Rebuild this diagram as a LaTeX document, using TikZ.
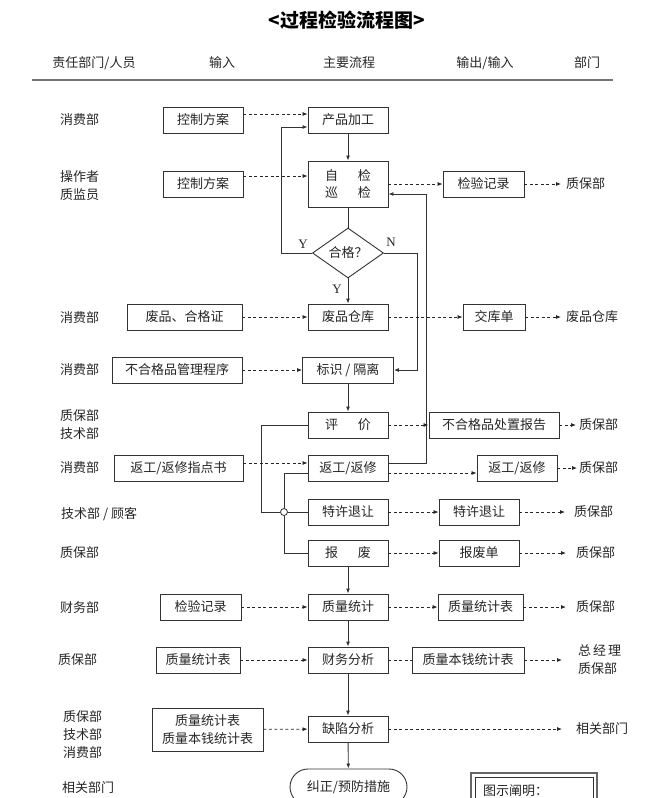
\documentclass[tikz,border=0pt]{standalone}
\usepackage{fontspec}
\setmainfont{Liberation Serif}
\newfontfamily\cjk{Noto Sans CJK SC}
\usetikzlibrary{shapes.geometric,arrows.meta,calc}
\begin{document}
\begin{tikzpicture}[x=1pt,y=-1pt,
  every node/.style={font=\cjk\fontsize{13}{18}\selectfont, text=black!85, inner sep=0pt},
  box/.style={draw=black!80, line width=0.9pt, minimum height=26pt, align=center},
  lab/.style={align=left, anchor=west},
  latin/.style={font=\rmfamily\fontsize{13}{15}\selectfont},
  dsh/.style={draw=black!85, line width=0.8pt, dash pattern=on 3pt off 2.5pt},
  arr/.style={-{Latex[length=5pt,width=4pt]}},
  sol/.style={draw=black!80, line width=0.9pt},
]
\useasboundingbox (0,0) rectangle (657,798);
\fill[white] (0,0) rectangle (657,798);

% title and header
\node[text=black] (title) at (347,20) {\fontsize{19}{22}\selectfont\bfseries <过程检验流程图>};
\node (h1) at (94,63) {责任部门/人员};
\node (h2) at (222,63) {输入};
\node (h3) at (349,63) {主要流程};
\node (h4) at (485,63) {输出/输入};
\node (h5) at (587,63) {部门};
\draw[black!55, line width=2pt] (32,80) -- (613,80);

% left labels
\node[lab] (l1) at (60,120) {消费部};
\node[lab] (l2) at (60,186) {操作者\\质监员};
\node[lab] (l3) at (60,318) {消费部};
\node[lab] (l4) at (60,370) {消费部};
\node[lab] (l5) at (60,425) {质保部\\技术部};
\node[lab] (l6) at (60,468) {消费部};
\node[lab] (l7) at (61,514) {技术部 / 顾客};
\node[lab] (l8) at (60,553) {质保部};
\node[lab] (l9) at (60,608) {财务部};
\node[lab] (l10) at (58,660) {质保部};
\node[lab] (l11) at (63,735) {质保部\\技术部\\消费部};
\node[lab] (l12) at (62,788) {相关部门};

% main column
\node[box, minimum width=80pt] (m1) at (348,120) {产品加工};
\node[box, minimum width=80pt, minimum height=46pt] (m2) at (348,184) {自\hspace{20pt}检\\[-1pt]巡\hspace{20pt}检};
\node[draw=black!80, line width=0.9pt, diamond, shape aspect=1.42, minimum width=71pt, minimum height=50pt] (dia) at (348,253) {合格？};
\node[box, minimum width=80pt] (m3) at (348,317) {废品仓库};
\node[box, minimum width=91pt] (m4) at (348,370) {标识 / 隔离};
\node[box, minimum width=80pt] (m5) at (348,425) {评\hspace{20pt}价};
\node[box, minimum width=80pt] (m6) at (348,468) {返工/返修};
\node[box, minimum width=80pt] (m7) at (348,512) {特许退让};
\node[box, minimum width=80pt] (m8) at (348,553) {报\hspace{20pt}废};
\node[box, minimum width=80pt] (m9) at (348,607) {质量统计};
\node[box, minimum width=80pt] (m10) at (348,660) {财务分析};
\node[box, minimum width=80pt] (m11) at (348,729) {缺陷分析};
\node[draw=black!80, line width=0.9pt, rounded corners=18pt, minimum width=117pt, minimum height=36pt] (m12) at (348.5,787) {纠正/预防措施};

% inputs
\node[box, minimum width=80pt] (i1) at (203,120) {控制方案};
\node[box, minimum width=80pt] (i2) at (203,184) {控制方案};
\node[box, minimum width=115pt] (i3) at (184.5,317) {废品、合格证};
\node[box, minimum width=130pt] (i4) at (177,370) {不合格品管理程序};
\node[box, minimum width=129pt] (i5) at (178.5,468) {返工/返修指点书};
\node[box, minimum width=81pt] (i6) at (200.5,607) {检验记录};
\node[box, minimum width=84pt] (i7) at (198,660) {质量统计表};
\node[box, minimum width=111pt, minimum height=43pt] (i8) at (207.5,729.5) {质量统计表\\质量本钱统计表};

% outputs
\node[box, minimum width=81pt] (o1) at (483.5,184) {检验记录};
\node[box, minimum width=62pt] (o2) at (494,317) {交库单};
\node[box, minimum width=130pt] (o3) at (494,425) {不合格品处置报告};
\node[box, minimum width=80pt] (o4) at (517,468) {返工/返修};
\node[box, minimum width=80pt] (o5) at (479,512) {特许退让};
\node[box, minimum width=80pt] (o6) at (479,553) {报废单};
\node[box, minimum width=85pt] (o7) at (480.5,607) {质量统计表};
\node[box, minimum width=112pt] (o8) at (468,660) {质量本钱统计表};

% right labels
\node[lab] (r1) at (566,184) {质保部};
\node[lab] (r2) at (566,317) {废品仓库};
\node[lab] (r3) at (579,425) {质保部};
\node[lab] (r4) at (579,468) {质保部};
\node[lab] (r5) at (574,512) {质保部};
\node[lab] (r6) at (576,553) {质保部};
\node[lab] (r7) at (576,607) {质保部};
\node[lab] (r8) at (578,660) {总\hspace{2pt}经\hspace{2pt}理\\质保部};
\node[lab] (r9) at (576,729) {相关部门};

% Y / N labels
\node[latin] (y1) at (303,244) {Y};
\node[latin] (n1) at (391,242) {N};
\node[latin] (y2) at (337,289) {Y};

% main solid flow
\draw[sol,arr] (m1) -- (m2);
\draw[sol] (m2) -- (dia);
\draw[sol,arr] (dia) -- (m3);
\draw[sol,arr] (m4) -- (m5);
\draw[sol,arr] (m8) -- (m9);
\draw[sol,arr] (m9) -- (m10);
\draw[sol,arr] (m10) -- (m11);
\draw[sol,arr] (m11) -- (m12);

% loops
\coordinate (lp) at (281,253);
\draw[sol,arr] (dia.west) -- (lp) |- ($(m1.west)+(0,7)$);
\coordinate (np) at (417,253);
\draw[sol,arr] (dia.east) -- (np) |- (m4.east);
\coordinate (rp) at (426,463);
\draw[sol,arr] ($(m6.east)+(0,-5)$) -- (rp) |- ($(m2.east)+(0,10)$);

% left branches
\coordinate (b1) at (261,425);
\draw[sol] (m5.west) -- (b1) |- (m7.west);
\coordinate (c1) at (284,473);
\draw[sol] ($(m6.west)+(0,5)$) -- (c1) |- (m8.west);
\node[circle, draw=black!80, line width=0.8pt, fill=white, minimum size=7pt] (jn) at (284,512) {};

% dashed inputs
\draw[dsh,arr] ($(i1.east)+(0,-6)$) -- ($(m1.west)+(0,-6)$);
\draw[dsh,arr] ($(i2.east)+(0,-8)$) -- ($(m2.west)+(0,-8)$);
\draw[dsh,arr] (i3) -- (m3);
\draw[dsh,arr] (i4) -- (m4);
\draw[dsh,arr] ($(i5.east)+(0,-5)$) -- ($(m6.west)+(0,-5)$);
\draw[dsh,arr] (i6) -- (m9);
\draw[dsh,arr] (i7) -- (m10);
\draw[dsh,arr] (i8) -- (m11);

% dashed outputs
\draw[dsh,arr] (m2) -- (o1);
\draw[dsh,arr,shorten >=5pt] (o1) -- (r1);
\draw[dsh,arr] (m3) -- (o2);
\draw[dsh,arr,shorten >=5pt] (o2) -- (r2);
\draw[dsh,arr] (m5) -- (o3);
\draw[dsh,arr,shorten >=3pt] (o3) -- (r3);
\draw[dsh,arr] ($(m6.east)+(0,5)$) -- ($(o4.west)+(0,5)$);
\draw[dsh,arr,shorten >=2pt] (o4) -- (r4);
\draw[dsh,arr] (m7) -- (o5);
\draw[dsh,arr,shorten >=9pt] (o5) -- (r5);
\draw[dsh,arr] (m8) -- (o6);
\draw[dsh,arr,shorten >=10pt] (o6) -- (r6);
\draw[dsh,arr] (m9) -- (o7);
\draw[dsh,arr,shorten >=10pt] (o7) -- (r7);
\draw[dsh] (m10) -- (o8);
\draw[dsh,arr,shorten >=16pt] (o8) -- (r8);
\draw[dsh,arr,shorten >=14pt] (m11) -- (r9);

% legend
\draw[black!60, line width=1.8pt] (471,773) rectangle (597,815);
\draw[black!80, line width=0.7pt] (475,777) rectangle (593,815);
\node[anchor=west] (leg) at (483,791) {图示阐明：};
\end{tikzpicture}
\end{document}
